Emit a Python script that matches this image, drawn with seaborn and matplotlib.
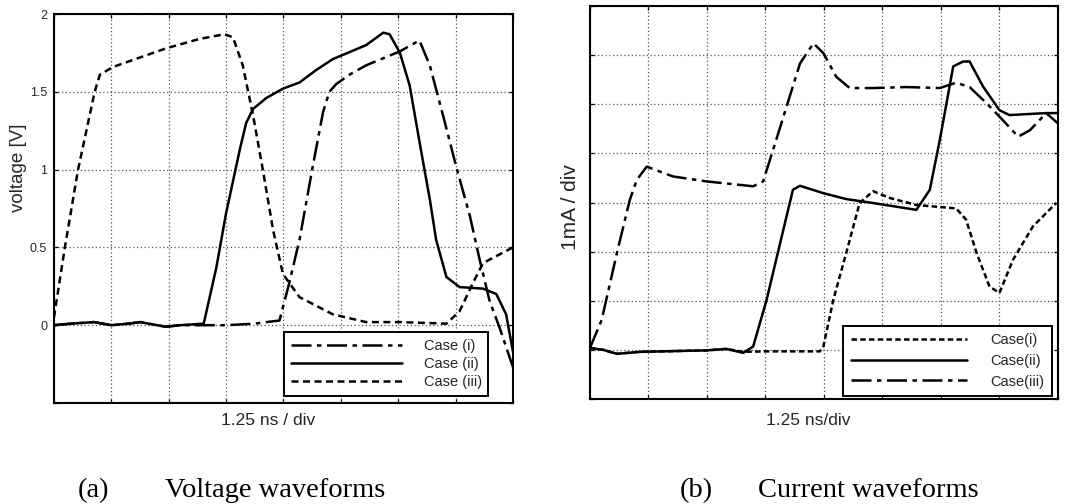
import matplotlib
matplotlib.use("Agg")
import matplotlib.pyplot as plt
import seaborn as sns
import pandas as pd

# ---- (a) voltage waveforms, x in divisions of 1.25 ns, y in volts ----
v1_x = [0.0, 0.3, 0.7, 1.0, 1.3, 1.5, 1.95, 2.2, 2.61, 3.0, 3.5, 3.7, 3.93,
        4.1, 4.28, 4.51, 4.69, 4.8, 4.92, 5.15, 5.44, 6.03, 6.32, 6.37,
        6.55, 6.78, 7.01, 7.25, 7.42, 7.59, 7.77, 8.0]
v1_y = [0.0, 0.01, 0.02, 0.0, 0.01, 0.02, -0.01, 0.0, 0.0, 0.0, 0.01, 0.02, 0.03,
        0.27, 0.55, 1.02, 1.37, 1.5, 1.55, 1.61, 1.67, 1.76, 1.82, 1.83,
        1.67, 1.35, 1.02, 0.70, 0.42, 0.16, -0.02, -0.27]

v2_x = [0.0, 0.3, 0.7, 1.0, 1.3, 1.5, 1.95, 2.2, 2.61, 2.83, 3.0, 3.24, 3.35,
        3.47, 3.70, 3.99, 4.28, 4.57, 4.86, 5.44, 5.74, 5.85, 6.03, 6.2, 6.37,
        6.55, 6.66, 6.84, 7.07, 7.48, 7.71, 7.88, 8.0]
v2_y = [0.0, 0.01, 0.02, 0.0, 0.01, 0.02, -0.01, 0.0, 0.01, 0.37, 0.72, 1.13, 1.30,
        1.39, 1.46, 1.52, 1.56, 1.64, 1.71, 1.80, 1.88, 1.87, 1.75, 1.54, 1.18,
        0.81, 0.55, 0.31, 0.245, 0.235, 0.20, 0.07, -0.17]

v3_x = [0.0, 0.19, 0.42, 0.71, 0.8, 1.03, 1.96, 2.54, 2.97, 3.12, 3.29, 3.47,
        3.64, 3.82, 3.99, 4.28, 4.86, 5.44, 6.03, 6.84, 7.07, 7.3, 7.48, 8.0]
v3_y = [0.05, 0.5, 1.0, 1.5, 1.61, 1.66, 1.78, 1.84, 1.87, 1.85, 1.67, 1.35,
        1.0, 0.61, 0.33, 0.18, 0.07, 0.02, 0.02, 0.01, 0.09, 0.27, 0.40, 0.50]

# ---- (b) current waveforms, x in divisions of 1.25 ns, y in divisions of 1 mA ----
i1_x = [0.0, 0.23, 0.46, 0.85, 1.99, 2.33, 2.62, 3.0, 3.5, 3.93, 3.99, 4.16,
        4.38, 4.61, 4.84, 5.13, 5.58, 6.26, 6.43, 6.61, 6.83, 7.0, 7.23, 7.57, 7.97]
i1_y = [1.04, 1.0, 0.92, 0.96, 0.99, 1.02, 0.96, 0.97, 0.97, 0.97, 1.07, 2.02,
        2.97, 3.99, 4.23, 4.09, 3.95, 3.88, 3.65, 2.97, 2.29, 2.16, 2.83, 3.51, 3.99]

i2_x = [0.0, 0.23, 0.46, 0.85, 1.99, 2.33, 2.62, 2.79, 3.02, 3.25, 3.47, 3.59,
        3.99, 4.38, 4.84, 5.58, 5.81, 5.98, 6.21, 6.38, 6.49, 6.72, 7.0, 7.17,
        7.8, 8.0]
i2_y = [1.04, 1.0, 0.92, 0.96, 0.99, 1.02, 0.94, 1.07, 2.02, 3.17, 4.26, 4.34,
        4.19, 4.07, 3.99, 3.85, 4.26, 5.27, 6.77, 6.87, 6.87, 6.36, 5.88, 5.78,
        5.82, 5.82]

i3_x = [0.0, 0.2, 0.46, 0.68, 0.8, 0.97, 1.42, 1.99, 2.79, 2.96, 3.13, 3.36,
        3.59, 3.82, 3.99, 4.21, 4.44, 4.84, 5.41, 5.98, 6.26, 6.49, 6.78, 7.0,
        7.32, 7.52, 7.8, 8.0]
i3_y = [1.04, 1.61, 2.97, 4.05, 4.46, 4.73, 4.53, 4.43, 4.33, 4.43, 5.07, 5.95,
        6.83, 7.24, 7.04, 6.56, 6.33, 6.33, 6.35, 6.33, 6.44, 6.35, 6.02, 5.75,
        5.34, 5.47, 5.82, 5.61]

volt_labels = ["Case (i)", "Case (ii)", "Case (iii)"]
curr_labels = ["Case(i)", "Case(ii)", "Case(iii)"]
volt_ticks = [-0.5, 0, 0.5, 1, 1.5, 2]
volt_ticklabels = ["", "0", "0.5", "1", "1.5", "2"]

DASHDOT = (0, (8, 2.2, 1.8, 2.2))
DASHED = (0, (2.8, 1.8))
DOTTED = (0, (2.2, 1.3))

sns.set_theme(style="white")
plt.rcParams["font.family"] = ["Liberation Sans", "DejaVu Sans"]

fig = plt.figure(figsize=(10.77, 5.04), dpi=100)
ax_v = fig.add_axes([0.0501, 0.2004, 0.4262, 0.7718])
ax_i = fig.add_axes([0.5478, 0.2083, 0.4345, 0.7798])


def draw(ax, xs, ys, styles, labels):
    for x, y, ls, lab in zip(xs, ys, styles, labels):
        df = pd.DataFrame({"t": x, "v": y})
        sns.lineplot(data=df, x="t", y="v", ax=ax, color="black",
                     linestyle=ls, linewidth=1.8, label=lab, sort=False)


def frame(ax):
    for s in ax.spines.values():
        s.set_visible(True)
        s.set_color("black")
        s.set_linewidth(1.5)
    ax.grid(True, color="#555555", linestyle=(0, (1, 2)), linewidth=0.9)
    ax.set_axisbelow(True)
    ax.tick_params(direction="in", length=3, width=0.9, color="black",
                   top=True, right=True, bottom=True, left=True)
    ax.set_xlim(0, 8)
    ax.set_xticks(range(9))
    ax.set_xticklabels([])


draw(ax_v, [v1_x, v2_x, v3_x], [v1_y, v2_y, v3_y], [DASHDOT, "-", DASHED], volt_labels)
frame(ax_v)
ax_v.set_ylim(-0.5, 2.0)
ax_v.set_yticks(volt_ticks)
ax_v.set_yticklabels(volt_ticklabels, fontsize=9)
ax_v.tick_params(axis="y", pad=5)
ax_v.set_xlabel("1.25 ns / div", fontsize=12.5)
ax_v.xaxis.set_label_coords(0.466, -0.026)
ax_v.set_ylabel("voltage [V]", fontsize=13.5)
ax_v.yaxis.set_label_coords(-0.059, 0.604)
leg = ax_v.legend(loc="lower right", bbox_to_anchor=(0.946, 0.018), borderaxespad=0,
                  fontsize=10.5, handlelength=7.6, handletextpad=1.5, labelspacing=0.3,
                  fancybox=False, framealpha=1, edgecolor="black", borderpad=0.45)
leg.get_frame().set_linewidth(1.4)

draw(ax_i, [i1_x, i2_x, i3_x], [i1_y, i2_y, i3_y], [DOTTED, "-", DASHDOT], curr_labels)
frame(ax_i)
ax_i.set_ylim(0, 8)
ax_i.set_yticks(range(9))
ax_i.set_yticklabels([])
ax_i.set_xlabel("1.25 ns/div", fontsize=12.5)
ax_i.xaxis.set_label_coords(0.466, -0.036)
ax_i.set_ylabel("1mA / div", fontsize=15)
ax_i.yaxis.set_label_coords(-0.021, 0.489)
leg = ax_i.legend(loc="lower right", bbox_to_anchor=(0.987, 0.008), borderaxespad=0,
                  fontsize=10.5, handlelength=8.0, handletextpad=1.6, labelspacing=0.45,
                  fancybox=False, framealpha=1, edgecolor="black", borderpad=0.5)
leg.get_frame().set_linewidth(1.4)

cap_font = dict(family=["Liberation Serif", "DejaVu Serif"], fontsize=20.5, color="black",
                va="baseline")
cap_y = 1 - 497 / 504
fig.text(78 / 1077, cap_y, "(a)", **cap_font)
fig.text(165 / 1077, cap_y, "Voltage waveforms", **cap_font)
fig.text(680 / 1077, cap_y, "(b)", **cap_font)
fig.text(758 / 1077, cap_y, "Current waveforms", **cap_font)

fig.savefig("out.png", dpi=100, facecolor="white")
